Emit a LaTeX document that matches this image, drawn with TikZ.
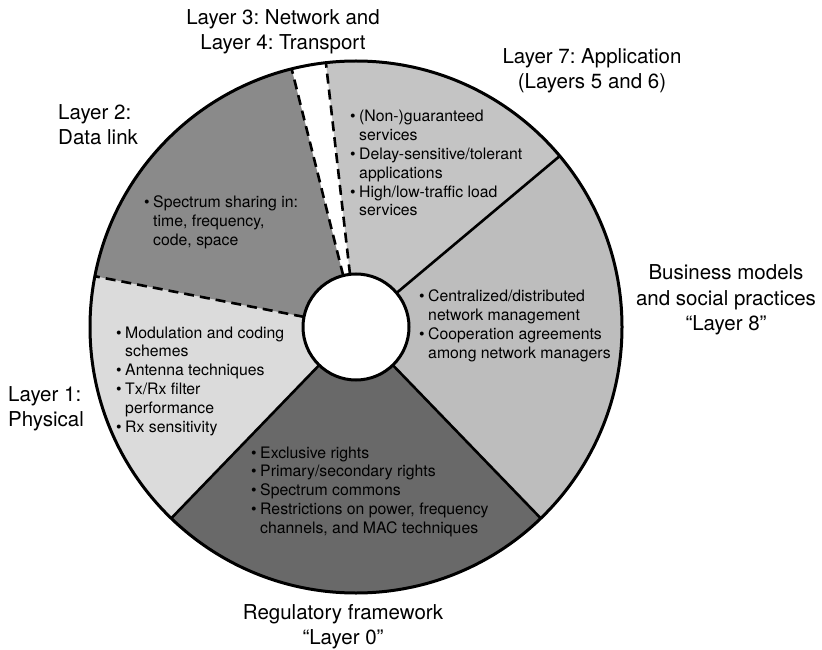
\documentclass[tikz,border=0pt]{standalone}
\usepackage{fontspec}
\setmainfont{TeX Gyre Heros}
\usetikzlibrary{calc}
\frenchspacing

\definecolor{physfill}{gray}{0.86}
\definecolor{linkfill}{gray}{0.54}
\definecolor{regfill}{gray}{0.41}
\definecolor{busfill}{gray}{0.74}
\definecolor{appfill}{gray}{0.77}

\def\outR{266}
\def\inR{53}

\newcommand\wedgefill[3]{%
  \fill[#1] (C) -- ($(C)+(#2:\outR)$) arc[start angle=#2, end angle=#3, radius=\outR] -- cycle;}
\newcommand\spoke[2]{%
  \draw[#1] ($(C)+(#2:\inR)$) -- ($(C)+(#2:\outR)$);}
\newcommand\blist[1]{\begin{tabular}[t]{@{}l@{\hspace{3.5pt}}l@{}}#1\end{tabular}}
\newcommand\ctext[1]{\begin{tabular}[t]{@{}c@{}}#1\end{tabular}}
\newcommand\ltext[1]{\begin{tabular}[t]{@{}l@{}}#1\end{tabular}}

\tikzset{
  ring/.style={line width=3pt, black},
  solidspoke/.style={line width=2.6pt, black},
  dashspoke/.style={line width=2.6pt, black, dash pattern=on 10pt off 6pt},
  lbl/.style={font=\fontsize{20.5}{25}\selectfont\frenchspacing, inner sep=0pt},
  itm/.style={font=\fontsize{15.8}{18.8}\selectfont\frenchspacing, inner sep=0pt, anchor=base west},
}

\begin{document}
\begin{tikzpicture}[x=1pt,y=1pt]
\useasboundingbox (0,0) rectangle (822,649);
\coordinate (C) at (356,322);

% sectors of the wheel
\wedgefill{physfill}{169}{226}
\wedgefill{regfill}{226}{314}
\wedgefill{busfill}{314}{400}
\wedgefill{appfill}{40}{96.5}
\wedgefill{linkfill}{104}{169}

% boundaries between sectors
\spoke{solidspoke}{226}
\spoke{solidspoke}{314}
\spoke{solidspoke}{40}
\spoke{dashspoke}{169}
\spoke{dashspoke}{104}
\spoke{dashspoke}{96.5}

% rims
\draw[ring] (C) circle[radius=\outR];
\draw[ring, fill=white] (C) circle[radius=\inR];

% contents of the sectors
\node[itm] (app) at (350,527) {\blist{%
  \textbullet & (Non-)guaranteed\\ & services\\
  \textbullet & Delay-sensitive/tolerant\\ & applications\\
  \textbullet & High/low-traffic load\\ & services}};
\node[itm] (bus) at (419,347) {\blist{%
  \textbullet & Centralized/distributed\\ & network management\\
  \textbullet & Cooperation agreements\\ & among network managers}};
\node[itm] (link) at (144,441) {\blist{%
  \textbullet & Spectrum sharing in:\\ & time, frequency,\\ & code, space}};
\node[itm] (phys) at (116,311) {\blist{%
  \textbullet & Modulation and coding\\ & schemes\\
  \textbullet & Antenna techniques\\
  \textbullet & Tx/Rx filter\\ & performance\\
  \textbullet & Rx sensitivity}};
\node[itm] (reg) at (251,191) {\blist{%
  \textbullet & Exclusive rights\\
  \textbullet & Primary/secondary rights\\
  \textbullet & Spectrum commons\\
  \textbullet & Restrictions on power, frequency\\ & channels, and MAC techniques}};

% layer names around the wheel
\node[lbl, anchor=base] (netlbl) at (283,624) {\ctext{Layer 3: Network and\\Layer 4: Transport}};
\node[lbl, anchor=base] (applbl) at (592,585) {\ctext{Layer 7: Application\\(Layers 5 and 6)}};
\node[lbl, anchor=base west] (linklbl) at (58,529) {\ltext{Layer 2:\\Data link}};
\node[lbl, anchor=base west] (physlbl) at (8,248) {\ltext{Layer 1:\\Physical}};
\node[lbl, anchor=base] (buslbl) at (726,369) {\ctext{Business models\\and social practices\\“Layer 8”}};
\node[lbl, anchor=base] (reglbl) at (343,30) {\ctext{Regulatory framework\\“Layer 0”}};
\end{tikzpicture}
\end{document}
